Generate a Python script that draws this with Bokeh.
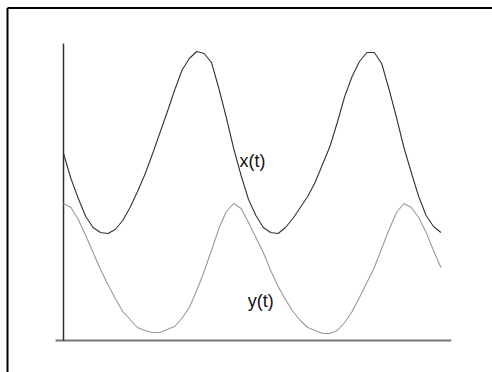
from bokeh.plotting import figure
from bokeh.models import Range1d, ColumnDataSource
from bokeh.core.properties import value
from bokeh.embed import file_html
from bokeh.resources import INLINE

# time index
t = list(range(52))

# x(t) series
x_vals = [1.87, 1.62, 1.42, 1.24, 1.13, 1.08, 1.07, 1.11, 1.20, 1.33,
          1.49, 1.66, 1.86, 2.07, 2.28, 2.50, 2.70, 2.82, 2.89, 2.87,
          2.78, 2.52, 2.23, 1.92, 1.65, 1.41, 1.25, 1.13, 1.08, 1.07,
          1.13, 1.22, 1.33, 1.44, 1.58, 1.76, 1.94, 2.18, 2.44, 2.64,
          2.79, 2.88, 2.88, 2.77, 2.51, 2.23, 1.93, 1.68, 1.44, 1.25,
          1.14, 1.08]

# y(t) series
y_vals = [1.37, 1.33, 1.21, 1.05, 0.88, 0.71, 0.56, 0.42, 0.29, 0.21,
          0.13, 0.10, 0.08, 0.08, 0.11, 0.14, 0.22, 0.33, 0.50, 0.69,
          0.90, 1.12, 1.29, 1.37, 1.32, 1.18, 1.03, 0.88, 0.70, 0.54,
          0.41, 0.29, 0.20, 0.13, 0.10, 0.07, 0.07, 0.10, 0.18, 0.29,
          0.43, 0.58, 0.73, 0.92, 1.11, 1.28, 1.37, 1.33, 1.23, 1.08,
          0.90, 0.73]

# curve labels
label_text = ["x(t)", "y(t)"]
label_t = [23.8, 24.9]
label_v = [1.80, 0.40]

# axis extents (data units)
v_axis_top = 2.97
h_axis_left = -1.08
h_axis_right = 52.4

PX_T = 7.4      # pixels per time unit
PX_V = 100.0    # pixels per value unit
W, H = 492, 372
x_start = -63 / PX_T
x_end = x_start + W / PX_T
y_end = 340 / PX_V
y_start = y_end - H / PX_V

p = figure(width=W, height=H,
           x_range=Range1d(x_start, x_end), y_range=Range1d(y_start, y_end),
           output_backend="svg", toolbar_location=None,
           x_axis_location=None, y_axis_location=None,
           min_border=0, min_border_left=0, min_border_right=0,
           min_border_top=0, min_border_bottom=0)
p.grid.visible = False
p.outline_line_color = None
p.background_fill_color = "white"
p.border_fill_color = "white"

# outer box (top and left edges visible)
bx = x_start + 7.0 / PX_T
by = y_end - 7.5 / PX_V
p.segment(x0=[bx, bx], y0=[y_start, by], x1=[bx, x_end], y1=[by, by],
          line_color="black", line_width=2)

# axes
p.segment(x0=[h_axis_left], y0=[0], x1=[h_axis_right], y1=[0],
          line_color="#777777", line_width=2)
p.segment(x0=[0], y0=[0], x1=[0], y1=[v_axis_top],
          line_color="#333333", line_width=1.5)

src = ColumnDataSource(dict(t=t, x=x_vals, y=y_vals))
p.line("t", "y", source=src, line_color="#999999", line_width=1.1)
p.line("t", "x", source=src, line_color="#333333", line_width=1.1)

p.text(x=label_t, y=label_v, text=label_text,
       text_font=value("Liberation Sans"), text_font_size="18px",
       text_baseline="alphabetic", text_align="left", text_color="#111111")

open("out.html", "w").write(file_html(p, INLINE))
